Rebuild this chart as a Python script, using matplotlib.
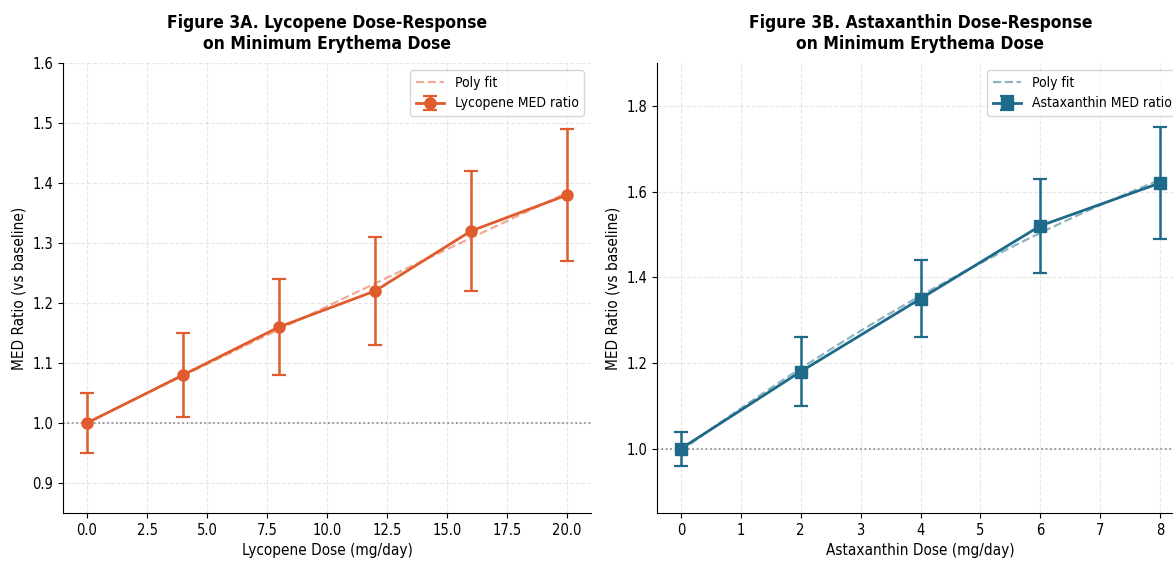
import numpy as np
import matplotlib.pyplot as plt

plt.rcParams['font.family'] = ['DejaVu Sans']
plt.rcParams['font.stretch'] = 'condensed'

# Lycopene data
lyc_dose = [0, 4, 8, 12, 16, 20]
lyc_med = [1.00, 1.08, 1.16, 1.22, 1.32, 1.38]
lyc_err = [0.05, 0.07, 0.08, 0.09, 0.10, 0.11]

# Astaxanthin data
ast_dose = [0, 2, 4, 6, 8]
ast_med = [1.00, 1.18, 1.35, 1.52, 1.62]
ast_err = [0.04, 0.08, 0.09, 0.11, 0.13]

lyc_color = '#E05C2C'
ast_color = '#1D6A89'

fig = plt.figure(figsize=(11.73, 5.62), dpi=100)
ax1 = fig.add_axes([63 / 1173, 49 / 562, 528 / 1173, 450 / 562])
ax2 = fig.add_axes([657 / 1173, 49 / 562, 527 / 1173, 450 / 562])


def panel(ax, dose, med, err, color, marker, name, title, xlabel, ylim):
    dose = np.array(dose)
    coef = np.polyfit(dose, med, 2)
    xs = np.linspace(dose.min(), dose.max(), 100)
    ax.plot(xs, np.polyval(coef, xs), '--', color=color, alpha=0.5, lw=1.6,
            label='Poly fit', zorder=2)
    ax.errorbar(dose, med, yerr=err, color=color, marker=marker, ms=8,
                lw=2, capsize=5, capthick=1.6, elinewidth=1.8,
                label=name + ' MED ratio', zorder=3)
    ax.axhline(1.0, color='grey', ls=':', lw=1.2, zorder=1)
    ax.set_ylim(*ylim)
    ax.grid(True, ls='--', alpha=0.3)
    ax.spines['top'].set_visible(False)
    ax.spines['right'].set_visible(False)
    ax.set_title(title, fontsize=12.5, fontweight='bold', pad=10)
    ax.set_xlabel(xlabel, fontsize=11)
    ax.set_ylabel('MED Ratio (vs baseline)', fontsize=11)
    ax.tick_params(labelsize=10.5)
    ax.legend(loc='upper right', fontsize=10)


panel(ax1, lyc_dose, lyc_med, lyc_err, lyc_color, 'o', 'Lycopene',
      'Figure 3A. Lycopene Dose-Response\non Minimum Erythema Dose',
      'Lycopene Dose (mg/day)', (0.85, 1.6))
panel(ax2, ast_dose, ast_med, ast_err, ast_color, 's', 'Astaxanthin',
      'Figure 3B. Astaxanthin Dose-Response\non Minimum Erythema Dose',
      'Astaxanthin Dose (mg/day)', (0.85, 1.9))
ax2.set_yticks([1.0, 1.2, 1.4, 1.6, 1.8])

fig.savefig('out.png', dpi=100)
